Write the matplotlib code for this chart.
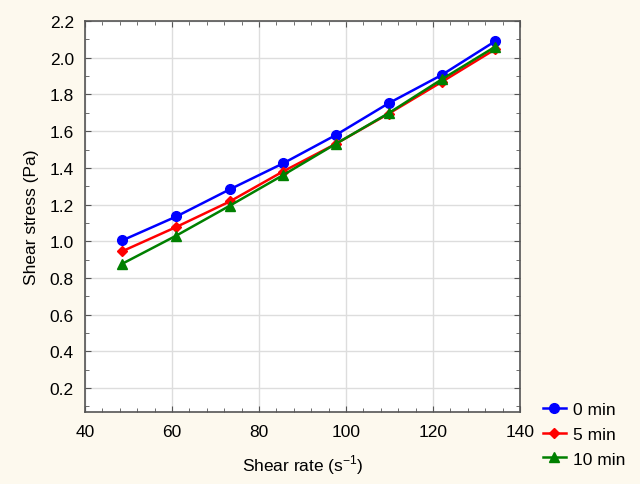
import matplotlib
matplotlib.use("Agg")
import matplotlib.pyplot as plt
from matplotlib.ticker import MultipleLocator, FormatStrFormatter

shear_rate = [48.6, 61.0, 73.3, 85.5, 97.6, 109.8, 122.0, 134.3]
stress_0 = [1.005, 1.135, 1.283, 1.424, 1.578, 1.752, 1.906, 2.090]
stress_5 = [0.946, 1.078, 1.217, 1.380, 1.530, 1.695, 1.868, 2.046]
stress_10 = [0.878, 1.031, 1.194, 1.360, 1.530, 1.698, 1.882, 2.060]
labels = ["0 min", "5 min", "10 min"]

plt.rcParams['font.family'] = ['Liberation Sans', 'DejaVu Sans']
plt.rcParams['axes.unicode_minus'] = False
bg = '#FDF9EE'
fs = 12.5
fig = plt.figure(figsize=(6.4, 4.85), dpi=100, facecolor=bg)
ax = fig.add_axes([0.1328, 0.1485, 0.6797, 0.8061])
ax.set_facecolor('white')

ax.plot(shear_rate, stress_0, color='#0000FF', marker='o', markersize=7, lw=1.8, label=labels[0], zorder=3)
ax.plot(shear_rate, stress_5, color='#FF0000', marker='D', markersize=5, lw=1.8, label=labels[1], zorder=3)
ax.plot(shear_rate, stress_10, color='#008000', marker='^', markersize=7, lw=1.8, label=labels[2], zorder=3)

ax.set_xlim(40, 140)
ax.set_ylim(0.07, 2.2)
ax.xaxis.set_major_locator(MultipleLocator(20))
ax.xaxis.set_minor_locator(MultipleLocator(4))
ax.yaxis.set_major_locator(MultipleLocator(0.2))
ax.yaxis.set_minor_locator(MultipleLocator(0.1))
ax.yaxis.set_major_formatter(FormatStrFormatter('%.1f'))
ax.grid(True, which='major', color='#DDDDDD', lw=1)
ax.set_axisbelow(True)
ax.tick_params(which='both', direction='in', top=True, right=True, colors='#555555', labelcolor='black', labelsize=fs)
ax.tick_params(which='major', length=4)
ax.tick_params(which='minor', length=3)
ax.tick_params(axis='x', pad=9)
ax.tick_params(axis='y', pad=8)
for s in ax.spines.values():
    s.set_color('#555555')
    s.set_linewidth(1.2)

ax.set_xlabel('Shear rate (s$^{\\mathregular{-1}}$)', fontsize=fs, labelpad=9)
ax.set_ylabel('Shear stress (Pa)', fontsize=fs, labelpad=8)

fig.legend(loc='upper left', bbox_to_anchor=(543/640, (485-403)/485), frameon=False, fontsize=fs,
           handlelength=1.3, handletextpad=0.45, labelspacing=0.55, borderpad=0, borderaxespad=0)

fig.savefig('out.png', dpi=100, facecolor=bg)
